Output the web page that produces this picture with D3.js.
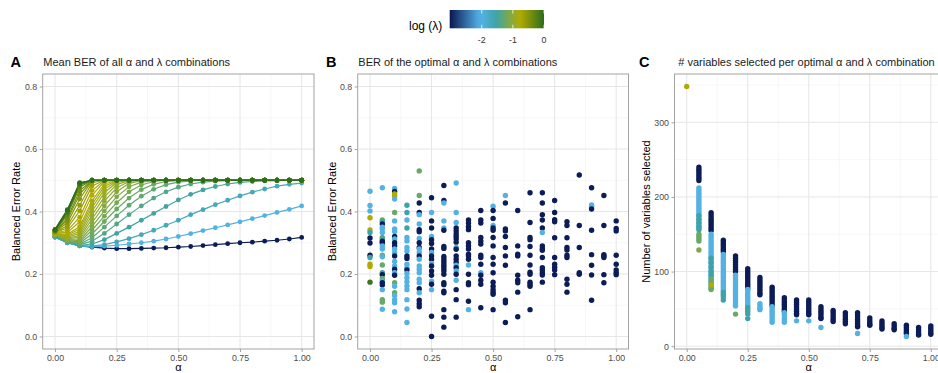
<!DOCTYPE html>
<html><head><meta charset="utf-8">
<script src="https://cdn.jsdelivr.net/npm/d3@7"></script>
<style>
html,body{margin:0;padding:0;background:#fff;}
svg{display:block;font-family:"Liberation Sans",Arial,Helvetica,sans-serif;}
</style></head>
<body><svg id="chart" width="938" height="373"></svg>
<script>
// ---------------- DATA ----------------
const alphaGrid = [0,0.05,0.1,0.15,0.2,0.25,0.3,0.35,0.4,0.45,0.5,0.55,0.6,0.65,0.7,0.75,0.8,0.85,0.9,0.95,1];
const lambdaGrid = [0.001,0.01,0.02,0.03,0.04,0.05,0.06,0.07,0.08,0.09,0.1,0.11,0.12,0.13,0.14,0.15,0.17,0.19,0.22,0.25,0.3,0.35,0.4,0.5,0.6,0.7,0.8,0.9,1.0];
// mean BER per lambda (rows) across alphaGrid (columns)
const meanBER = [
[.318,.300,.290,.286,.283,.281,.281,.282,.283,.284,.286,.288,.291,.294,.297,.300,.302,.305,.308,.312,.317],
[.318,.300,.290,.287,.289,.292,.296,.300,.305,.312,.320,.329,.339,.348,.357,.367,.377,.387,.397,.407,.418],
[.319,.301,.291,.289,.294,.303,.313,.326,.340,.356,.372,.390,.406,.422,.436,.450,.462,.472,.481,.487,.491],
[.320,.302,.292,.296,.310,.330,.350,.372,.394,.416,.437,.455,.469,.480,.488,.493,.496,.498,.499,.500,.500],
[.321,.303,.294,.305,.330,.360,.390,.418,.443,.463,.478,.488,.494,.497,.499,.500,.500,.500,.500,.500,.500],
[.322,.304,.296,.316,.350,.386,.420,.449,.471,.486,.494,.498,.500,.500,.500,.500,.500,.500,.500,.500,.500],
[.323,.305,.299,.328,.368,.408,.443,.470,.487,.496,.499,.500,.500,.500,.500,.500,.500,.500,.500,.500,.500],
[.324,.307,.303,.340,.385,.428,.463,.485,.496,.500,.500,.500,.500,.500,.500,.500,.500,.500,.500,.500,.500],
[.325,.309,.307,.352,.402,.447,.479,.494,.499,.500,.500,.500,.500,.500,.500,.500,.500,.500,.500,.500,.500],
[.326,.311,.312,.364,.418,.463,.490,.499,.500,.500,.500,.500,.500,.500,.500,.500,.500,.500,.500,.500,.500],
[.327,.313,.317,.376,.433,.476,.496,.500,.500,.500,.500,.500,.500,.500,.500,.500,.500,.500,.500,.500,.500],
[.328,.315,.323,.388,.447,.486,.499,.500,.500,.500,.500,.500,.500,.500,.500,.500,.500,.500,.500,.500,.500],
[.328,.318,.330,.400,.460,.493,.500,.500,.500,.500,.500,.500,.500,.500,.500,.500,.500,.500,.500,.500,.500],
[.329,.321,.337,.412,.471,.497,.500,.500,.500,.500,.500,.500,.500,.500,.500,.500,.500,.500,.500,.500,.500],
[.330,.324,.344,.423,.480,.499,.500,.500,.500,.500,.500,.500,.500,.500,.500,.500,.500,.500,.500,.500,.500],
[.330,.327,.352,.434,.488,.500,.500,.500,.500,.500,.500,.500,.500,.500,.500,.500,.500,.500,.500,.500,.500],
[.331,.333,.367,.452,.496,.500,.500,.500,.500,.500,.500,.500,.500,.500,.500,.500,.500,.500,.500,.500,.500],
[.332,.339,.382,.467,.499,.500,.500,.500,.500,.500,.500,.500,.500,.500,.500,.500,.500,.500,.500,.500,.500],
[.333,.347,.402,.482,.500,.500,.500,.500,.500,.500,.500,.500,.500,.500,.500,.500,.500,.500,.500,.500,.500],
[.334,.354,.420,.492,.500,.500,.500,.500,.500,.500,.500,.500,.500,.500,.500,.500,.500,.500,.500,.500,.500],
[.335,.364,.440,.498,.500,.500,.500,.500,.500,.500,.500,.500,.500,.500,.500,.500,.500,.500,.500,.500,.500],
[.336,.372,.455,.500,.500,.500,.500,.500,.500,.500,.500,.500,.500,.500,.500,.500,.500,.500,.500,.500,.500],
[.337,.379,.466,.500,.500,.500,.500,.500,.500,.500,.500,.500,.500,.500,.500,.500,.500,.500,.500,.500,.500],
[.338,.389,.478,.500,.500,.500,.500,.500,.500,.500,.500,.500,.500,.500,.500,.500,.500,.500,.500,.500,.500],
[.339,.395,.484,.500,.500,.500,.500,.500,.500,.500,.500,.500,.500,.500,.500,.500,.500,.500,.500,.500,.500],
[.340,.399,.488,.500,.500,.500,.500,.500,.500,.500,.500,.500,.500,.500,.500,.500,.500,.500,.500,.500,.500],
[.341,.402,.490,.500,.500,.500,.500,.500,.500,.500,.500,.500,.500,.500,.500,.500,.500,.500,.500,.500,.500],
[.342,.404,.491,.500,.500,.500,.500,.500,.500,.500,.500,.500,.500,.500,.500,.500,.500,.500,.500,.500,.500],
[.343,.406,.492,.500,.500,.500,.500,.500,.500,.500,.500,.500,.500,.500,.500,.500,.500,.500,.500,.500,.500]
];
// Panel B: optimal combinations per alpha: [alpha, [[BER, log10(lambda)], ...]]
const berGroups = [
[0,[[.465,-2],[.419,-2],[.402,-2],[.380,-.77],[.341,-.77],[.333,-1.55],[.315,-3],[.299,-3],[.260,-3],[.253,-1.55],[.231,-.77],[.224,-.77],[.174,-.1]]],
[0.05,[[.476,-2],[.373,-1.25],[.367,-1.55],[.360,-3],[.350,-2],[.344,-2],[.333,-2],[.317,-1.25],[.312,-1.55],[.305,-3],[.299,-3],[.290,-2],[.280,-2],[.260,-1.25],[.255,-2],[.229,-1.25],[.204,-1.55],[.198,-3],[.186,-1.25],[.178,-2],[.172,-3],[.165,-3],[.150,-2],[.118,-1.25],[.110,-1.25],[.087,-2]]],
[0.1,[[.474,-2],[.464,-3],[.456,-.77],[.450,-.77],[.440,-2],[.397,-1.25],[.370,-2],[.344,-2],[.336,-2],[.320,-3],[.312,-2],[.300,-3],[.290,-3],[.280,-2],[.268,-2],[.258,-3],[.240,-2],[.226,-2],[.215,-3],[.204,-2],[.196,-3],[.172,-1.25],[.161,-2],[.140,-1.25],[.131,-2],[.118,-2],[.108,-2],[.079,-2]]],
[0.15,[[.420,-1.55],[.397,-1.55],[.373,-2],[.347,-1.55],[.317,-2],[.306,-2],[.285,-2],[.274,-2],[.258,-3],[.250,-3],[.231,-2],[.220,-2],[.213,-3],[.202,-2],[.188,-2],[.175,-2],[.162,-2],[.150,-2],[.118,-2],[.088,-2],[.045,-2]]],
[0.2,[[.530,-1.25],[.451,-1.25],[.427,-3],[.397,-3],[.390,-2],[.360,-2],[.342,-3],[.335,-3],[.314,-2],[.300,-3],[.285,-3],[.280,-2],[.269,-2],[.258,-3],[.247,-2],[.226,-2],[.215,-2],[.204,-2],[.183,-2],[.172,-2],[.153,-3],[.140,-2],[.116,-3],[.105,-3],[.095,-3]]],
[0.25,[[.444,-3],[.397,-2],[.370,-3],[.347,-3],[.320,-2],[.310,-3],[.298,-3],[.280,-3],[.269,-2],[.258,-3],[.247,-3],[.234,-2],[.226,-3],[.210,-3],[.196,-3],[.177,-2],[.167,-3],[.150,-2],[.065,-3],[.000,-3]]],
[0.3,[[.483,-3],[.435,-3],[.427,-2],[.370,-2],[.347,-2],[.340,-3],[.288,-3],[.282,-3],[.256,-3],[.248,-3],[.240,-3],[.232,-3],[.225,-3],[.217,-3],[.210,-3],[.199,-3],[.172,-3],[.166,-3],[.145,-3],[.140,-3],[.086,-3],[.062,-3],[.030,-3]]],
[0.35,[[.491,-2],[.397,-2],[.365,-2],[.347,-3],[.338,-3],[.328,-3],[.320,-3],[.312,-3],[.302,-3],[.285,-2],[.279,-3],[.258,-3],[.247,-3],[.237,-3],[.228,-2],[.220,-3],[.210,-2],[.199,-3],[.180,-2],[.150,-3],[.118,-3],[.062,-3]]],
[0.4,[[.373,-3],[.363,-3],[.352,-3],[.342,-3],[.300,-3],[.290,-3],[.280,-3],[.263,-3],[.258,-3],[.247,-3],[.229,-2],[.199,-3],[.172,-3],[.166,-3],[.113,-3],[.086,-2]]],
[0.45,[[.403,-3],[.373,-3],[.363,-3],[.317,-3],[.306,-3],[.296,-3],[.260,-3],[.253,-3],[.231,-3],[.204,-2],[.196,-3],[.180,-3],[.167,-3],[.092,-3]]],
[0.5,[[.417,-2],[.403,-3],[.378,-3],[.355,-2],[.347,-3],[.340,-3],[.317,-3],[.290,-3],[.253,-3],[.231,-3],[.204,-3],[.174,-3],[.161,-3],[.150,-3],[.142,-3],[.135,-3],[.086,-3]]],
[0.55,[[.451,-2],[.427,-3],[.344,-3],[.338,-3],[.320,-3],[.285,-3],[.258,-3],[.228,-3],[.116,-3],[.108,-3],[.045,-3]]],
[0.6,[[.403,-3],[.290,-3],[.263,-3],[.258,-3],[.196,-3],[.180,-3],[.172,-3],[.142,-3],[.063,-3]]],
[0.65,[[.460,-3],[.365,-3],[.317,-3],[.310,-3],[.288,-3],[.260,-3],[.229,-3],[.206,-3],[.199,-3],[.174,-3],[.167,-3],[.161,-3],[.086,-3]]],
[0.7,[[.460,-3],[.427,-3],[.390,-3],[.373,-3],[.347,-3],[.333,-2],[.290,-3],[.281,-3],[.276,-3],[.253,-3],[.220,-3],[.213,-3],[.204,-3],[.197,-3],[.174,-3]]],
[0.75,[[.435,-3],[.397,-3],[.374,-3],[.367,-3],[.316,-3],[.253,-3],[.231,-3],[.222,-3],[.213,-3],[.198,-3]]],
[0.8,[[.367,-3],[.355,-3],[.316,-3],[.285,-3],[.277,-3],[.260,-3],[.253,-3],[.183,-3],[.167,-3],[.142,-3]]],
[0.85,[[.517,-3],[.355,-3],[.285,-3],[.204,-3],[.199,-3]]],
[0.9,[[.476,-3],[.421,-2],[.417,-2],[.408,-3],[.340,-3],[.262,-3],[.228,-3],[.197,-3],[.116,-3]]],
[0.95,[[.451,-3],[.355,-3],[.262,-3],[.258,-3],[.253,-3],[.198,-3],[.172,-3]]],
[1.0,[[.370,-3],[.346,-3],[.338,-3],[.260,-3],[.231,-3],[.213,-3],[.204,-3],[.198,-3]]]
];
// Panel C: number of variables selected: [alpha, log10(lambda), [counts...]]
const nvarGroups = [
[0,-0.8,[348]],
[0.05,-3,[240,237,234,231,228,225,222]],
[0.05,-2,[212,209,206,203,200,197,194,191,188,185,182,179,176,173,170,167,164,161,158]],
[0.05,-1.55,[175,170,165,160,156]],
[0.05,-1.25,[150,147,144,141]],
[0.05,-1.1,[129]],
[0.1,-3,[179,176,173,170,167,164,161,158,155]],
[0.1,-2,[150,147,144,141,138,135,132,129,126,123,120,117,114,111,108,105,102,99,96,93,90,87,84,81,78]],
[0.1,-1.55,[118,112,106,100,95]],
[0.1,-1.25,[90,86,78,76]],
[0.1,-0.8,[82]],
[0.15,-3,[142,139,136,133,130,127]],
[0.15,-2,[123,120,117,114,111,108,105,102,99,96,93,90,87,84,81,78,75]],
[0.15,-1.55,[72,69,66,62]],
[0.2,-3,[121,118,115,112,109,106,103,100]],
[0.2,-2,[95,92,89,86,83,80,77,74,71,68,65,62,59,56,54]],
[0.2,-1.25,[43]],
[0.25,-3,[104,101,98,95,92,89,86,83,80,77]],
[0.25,-2,[76,73,70,67,64,61,58,55]],
[0.25,-1.55,[52,49,46,43,37]],
[0.3,-3,[92,89,86,83,80,77,74,71,69]],
[0.3,-2,[57,54,51,49]],
[0.35,-3,[79,76,73,70,67,64,61,58,55]],
[0.35,-2,[53,50,47,44,41,38,35,32]],
[0.4,-3,[65,62,59,56,53,50,47]],
[0.4,-2,[45,42,38,35,32]],
[0.45,-3,[62,59,56,53,50,47,44,42]],
[0.45,-2,[34]],
[0.5,-3,[62,59,56,53,50,47,44,42]],
[0.5,-2,[34]],
[0.55,-3,[53,50,47,44,41,38,37]],
[0.55,-2,[25]],
[0.6,-3,[48,45,42,39,36,33]],
[0.65,-3,[45,42,39,36,33,30]],
[0.7,-3,[45,42,39,36,33,30,27,26]],
[0.7,-2,[17]],
[0.75,-3,[38,35,32,29,28]],
[0.8,-3,[34,31,28,25,23]],
[0.85,-3,[30,27,24,22]],
[0.9,-3,[28,25,22,19,17]],
[0.9,-2,[13]],
[0.95,-3,[25,22,19,16,15]],
[1.0,-3,[27,24,21,18,16]]
];
const xTicks = [0,0.25,0.5,0.75,1];
const berTicks = [0,0.2,0.4,0.6,0.8];
const nvarTicks = [0,100,200,300];
const legendTicks = [-2,-1,0];
const legendTickLabels = ["-2","-1","0"];
const colorStops = [-3,-2.05,-1.55,-1.25,-0.77,0];
const colorValues = ["#0b1c57","#56b4e9","#3ea3a8","#68a968","#b1ab00","#2c6d1e"];

// ---------------- DRAW ----------------
const svg = d3.select("#chart");
const color = d3.scaleLinear().domain(colorStops).range(colorValues).interpolate(d3.interpolateRgb);
const fmt2 = d3.format(".2f"), fmt1 = d3.format(".1f");
const TOP = 74, BOT = 349;

function panel(cfg){
  const g = svg.append("g");
  const x = d3.scaleLinear().domain([-0.05,1.05]).range([cfg.x0,cfg.x1]);
  const y = d3.scaleLinear().domain(cfg.ydom).range([BOT,TOP]);
  const clipId = "clip"+cfg.letter;
  svg.append("clipPath").attr("id",clipId).append("rect")
    .attr("x",cfg.x0).attr("y",TOP).attr("width",cfg.x1-cfg.x0).attr("height",BOT-TOP);
  const xMinor = xTicks.slice(0,-1).map((t,i)=>(t+xTicks[i+1])/2);
  const yt = cfg.yticks; const yMinor = yt.slice(0,-1).map((t,i)=>(t+yt[i+1])/2).concat([yt[yt.length-1]+(yt[1]-yt[0])/2]);
  const grid = g.append("g").attr("clip-path",`url(#${clipId})`);
  grid.selectAll(".xm").data(xMinor).join("line").attr("x1",d=>x(d)).attr("x2",d=>x(d)).attr("y1",TOP).attr("y2",BOT).attr("stroke","#f2f2f2").attr("stroke-width",0.6);
  grid.selectAll(".ym").data(yMinor).join("line").attr("y1",d=>y(d)).attr("y2",d=>y(d)).attr("x1",cfg.x0).attr("x2",cfg.x1).attr("stroke","#f2f2f2").attr("stroke-width",0.6);
  grid.selectAll(".xM").data(xTicks).join("line").attr("x1",d=>x(d)).attr("x2",d=>x(d)).attr("y1",TOP).attr("y2",BOT).attr("stroke","#e6e6e6").attr("stroke-width",1);
  grid.selectAll(".yM").data(yt).join("line").attr("y1",d=>y(d)).attr("y2",d=>y(d)).attr("x1",cfg.x0).attr("x2",cfg.x1).attr("stroke","#e6e6e6").attr("stroke-width",1);
  const plot = g.append("g").attr("clip-path",`url(#${clipId})`);
  cfg.draw(plot,x,y);
  g.append("rect").attr("x",cfg.x0).attr("y",TOP).attr("width",cfg.x1-cfg.x0).attr("height",BOT-TOP)
    .attr("fill","none").attr("stroke","#a3a3a3").attr("stroke-width",1);
  const ax = g.append("g").attr("transform",`translate(0,${BOT})`).call(d3.axisBottom(x).tickValues(xTicks).tickFormat(fmt2).tickSize(3).tickPadding(2.5));
  const ay = g.append("g").attr("transform",`translate(${cfg.x0},0)`).call(d3.axisLeft(y).tickValues(yt).tickFormat(cfg.yfmt).tickSize(3).tickPadding(2.5));
  [ax,ay].forEach(a=>{
    a.select(".domain").remove();
    a.selectAll(".tick line").attr("stroke","#a3a3a3");
    a.selectAll(".tick text").attr("fill","#4d4d4d").style("font-size","8.8px").style("font-family","'Liberation Sans',Arial,sans-serif");
  });
  svg.append("text").attr("x",cfg.letterX).attr("y",67).text(cfg.letter).style("font-size","14.5px").style("font-weight","bold").attr("fill","#000");
  svg.append("text").attr("x",cfg.titleX).attr("y",66).text(cfg.title).style("font-size","11px").attr("fill","#1a1a1a");
  svg.append("text").attr("transform",`translate(${cfg.ytitleX},${(TOP+BOT)/2}) rotate(-90)`).attr("text-anchor","middle").text(cfg.ytitle).style("font-size","11px").attr("fill","#000");
  svg.append("text").attr("x",(x(0)+x(1))/2).attr("y",371).attr("text-anchor","middle").text("α").style("font-size","11px").attr("fill","#000");
}

// Panel A
panel({letter:"A",letterX:10.5,titleX:43.3,x0:42.7,x1:314,ydom:[-0.04,0.84],yticks:berTicks,yfmt:fmt1,
  title:"Mean BER of all α and λ combinations",ytitle:"Balanced Error Rate",ytitleX:19.5,
  draw:(p,x,y)=>{
    const line = d3.line().x((d,i)=>x(alphaGrid[i])).y(d=>y(d));
    p.selectAll("path.l").data(meanBER).join("path").attr("d",line).attr("fill","none")
      .attr("stroke",(d,i)=>color(Math.log10(lambdaGrid[i]))).attr("stroke-width",1.2);
    meanBER.forEach((row,i)=>{
      p.selectAll(null).data(row).join("circle").attr("cx",(d,j)=>x(alphaGrid[j])).attr("cy",d=>y(d)).attr("r",2.4)
        .attr("fill",color(Math.log10(lambdaGrid[i])));
    });
  }});

// Panel B
const berPts = berGroups.flatMap(([a,pts])=>pts.map(([v,l])=>({a,v,l})));
panel({letter:"B",letterX:326,titleX:358.3,x0:357.7,x1:628.5,ydom:[-0.04,0.84],yticks:berTicks,yfmt:fmt1,
  title:"BER of the optimal α and λ combinations",ytitle:"Balanced Error Rate",ytitleX:335.5,
  draw:(p,x,y)=>{
    p.selectAll("circle").data(berPts).join("circle").attr("cx",d=>x(d.a)).attr("cy",d=>y(d.v)).attr("r",2.7).attr("fill",d=>color(d.l));
  }});

// Panel C
const nvarPts = nvarGroups.flatMap(([a,l,ns])=>ns.map(n=>({a,l,n})));
const nExt = d3.extent(nvarPts,d=>d.n); const nPad = (nExt[1]-nExt[0])*0.05;
panel({letter:"C",letterX:639,titleX:678.3,x0:674.5,x1:943,ydom:[nExt[0]-nPad,nExt[1]+nPad],yticks:nvarTicks,yfmt:d3.format("d"),
  title:"# variables selected per optimal α and λ combination",ytitle:"Number of variables selected",ytitleX:650,
  draw:(p,x,y)=>{
    p.selectAll("circle").data(nvarPts).join("circle").attr("cx",d=>x(d.a)).attr("cy",d=>y(d.n)).attr("r",2.7).attr("fill",d=>color(d.l));
  }});

// Legend colorbar
const lx = d3.scaleLinear().domain([-3.03,0]).range([449.7,544]);
const defs = svg.append("defs");
const grad = defs.append("linearGradient").attr("id","cbar").attr("x1","0%").attr("x2","100%");
d3.range(0,1.0001,0.05).forEach(t=>{
  grad.append("stop").attr("offset",(t*100)+"%").attr("stop-color",color(lx.invert(449.7+t*(544-449.7))));
});
svg.append("rect").attr("x",449.7).attr("y",10).attr("width",544-449.7).attr("height",18.3).attr("fill","url(#cbar)");
legendTicks.forEach(t=>{
  svg.append("line").attr("x1",lx(t)).attr("x2",lx(t)).attr("y1",10).attr("y2",13.5).attr("stroke","#fff").attr("stroke-width",0.8);
  svg.append("line").attr("x1",lx(t)).attr("x2",lx(t)).attr("y1",24.8).attr("y2",28.3).attr("stroke","#fff").attr("stroke-width",0.8);
});
svg.selectAll("text.lt").data(legendTicks).join("text").attr("class","lt").attr("x",d=>lx(d)).attr("y",42.5).attr("text-anchor","middle")
  .text((d,i)=>legendTickLabels[i]).style("font-size","8.8px").attr("fill","#333");
svg.append("text").attr("x",409).attr("y",30).text("log (λ)").style("font-size","12px").attr("fill","#000");
</script></body></html>
